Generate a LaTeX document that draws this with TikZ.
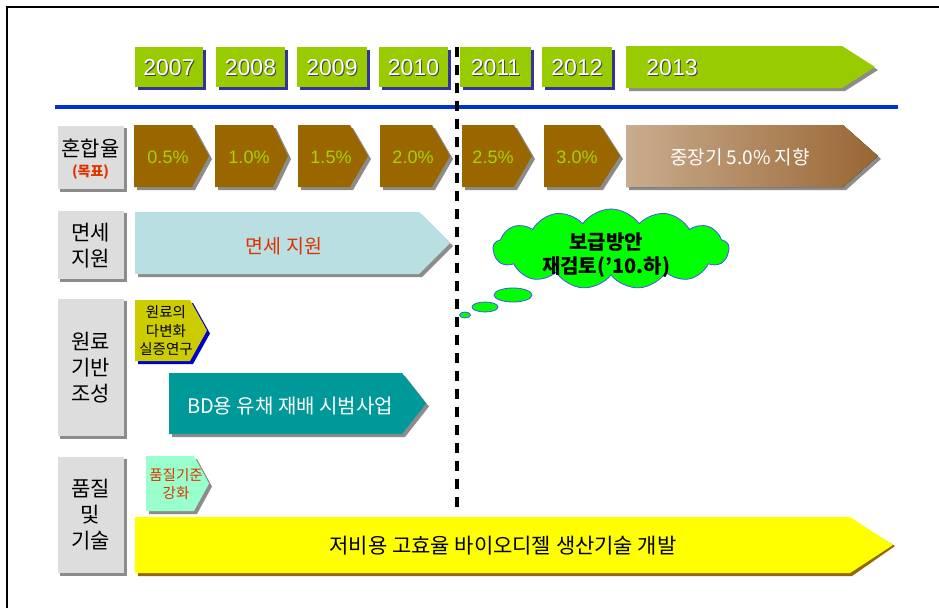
\documentclass[tikz,border=0pt]{standalone}
\usepackage{fontspec}
\setmainfont{Noto Sans CJK KR}
\newfontfamily\arialf{Liberation Sans}
\usetikzlibrary{shapes.symbols,shapes.geometric}
\definecolor{yrgreen}{HTML}{99CC00}
\definecolor{yrshadow}{HTML}{333399}
\definecolor{brownA}{HTML}{996600}
\definecolor{pctcol}{HTML}{A8D400}
\definecolor{lblgray}{HTML}{DDDDDD}
\definecolor{shgray}{HTML}{8C8C8C}
\definecolor{lightblue}{HTML}{B9DFE2}
\definecolor{redtxt}{HTML}{DD3300}
\definecolor{olivey}{HTML}{CCCC00}
\definecolor{tealb}{HTML}{009999}
\definecolor{mintg}{HTML}{99FFCC}
\definecolor{cloudgreen}{HTML}{00FF00}
\definecolor{lineblue}{HTML}{0033CC}
\definecolor{tanL}{HTML}{C9AC8E}
\definecolor{tanR}{HTML}{996633}
\definecolor{yellowA}{HTML}{FFFF00}
% #1 shadow style, #2 fill style, #3 x1, #4 y1, #5 body end, #6 tip, #7 y2
\newcommand\myarrow[7]{%
  \fill[#1,shift={(3,3)}] (#3,#4) -- (#5,#4) -- (#6,{(#4+#7)/2}) -- (#5,#7) -- (#3,#7) -- cycle;
  \fill[#2] (#3,#4) -- (#5,#4) -- (#6,{(#4+#7)/2}) -- (#5,#7) -- (#3,#7) -- cycle;
}
\newcommand\myyear[5]{%
  \fill[yrshadow] ({#1+3},{#2+3}) rectangle ({#3+3},{#4+3});
  \fill[yrgreen] (#1,#2) rectangle (#3,#4);
}
\newcommand\mylabelbox[4]{%
  \fill[shgray] ({#1+3},{#2+3}) rectangle ({#3+3},{#4+3});
  \fill[lblgray] (#1,#2) rectangle (#3,#4);
  \draw[white,line width=1pt] (#1+0.5,#4) -- (#1+0.5,#2+0.5) -- (#3,#2+0.5);
}
\tikzset{
  yrtxt/.style={text=white,font=\arialf\fontsize{23}{24}\selectfont,inner sep=0pt},
  yrsh/.style={text=black!75,font=\arialf\fontsize{23}{24}\selectfont,inner sep=0pt},
  pct/.style={text=pctcol,font=\arialf\fontsize{18}{20}\selectfont,inner sep=0pt},
  lbl/.style={text=black,font=\fontsize{21}{26}\selectfont,align=center,inner sep=0pt},
  small/.style={font=\fontsize{14.5}{18.5}\selectfont,align=center,inner sep=0pt},
  big/.style={font=\fontsize{20}{22}\selectfont,inner sep=0pt},
}
\begin{document}
\begin{tikzpicture}[x=1pt,y=-1pt]
\useasboundingbox (0,0) rectangle (939,608);
\fill[white] (0,0) rectangle (939,608);
% frame
\draw[line width=1.2pt] (7,608) -- (7,7) -- (939,7);
% years
\myyear{135}{47}{203}{87}{}
\myyear{216}{47}{285}{87}{}
\myyear{297}{47}{367}{87}{}
\myyear{379}{47}{448}{87}{}
\myyear{460}{47}{531}{87}{}
\myyear{542}{47}{612}{87}{}
\myarrow{shgray}{yrgreen}{626}{46}{842}{875}{88}
\foreach \x/\y in {169/2007,250.5/2008,332/2009,413.5/2010,495.5/2011,577/2012,672/2013}{
  \node[yrsh] (s\y) at (\x+1,68+1) {\y};
  \node[yrtxt] (t\y) at (\x,68) {\y};
}
% blue line
\draw[lineblue,line width=3.5pt] (55,107) -- (898,107);
% label boxes
\mylabelbox{57}{125}{124}{189}
\mylabelbox{57}{210}{124}{279}
\mylabelbox{57}{298}{124}{436}
\mylabelbox{57}{456}{124}{573}
\node[lbl] (l1) at (90.5,148) {혼합율};
\node[text=redtxt,font=\bfseries\fontsize{14}{16}\selectfont,inner sep=0pt] (l1b) at (90.5,172) {(목표)};
\node[lbl] (l2) at (90.5,245.5) {면세\\지원};
\node[lbl] (l3) at (90.5,368) {원료\\기반\\조성};
\node[lbl] (l4) at (90.5,515) {품질\\및\\기술};
% row 1
\myarrow{shgray}{brownA}{134}{125}{192}{209}{187}
\myarrow{shgray}{brownA}{215}{125}{273}{288}{187}
\myarrow{shgray}{brownA}{298}{125}{350}{368}{187}
\myarrow{shgray}{brownA}{380}{125}{432}{450}{187}
\myarrow{shgray}{brownA}{462}{125}{514}{532}{187}
\myarrow{shgray}{brownA}{544}{125}{600}{620}{187}
\myarrow{shgray}{left color=tanL,right color=tanR}{626}{125}{843}{878}{187}
\node[pct] (p1) at (168,157) {0.5\%};
\node[pct] (p2) at (249,157) {1.0\%};
\node[pct] (p3) at (331,157) {1.5\%};
\node[pct] (p4) at (413,157) {2.0\%};
\node[pct] (p5) at (493,157) {2.5\%};
\node[pct] (p6) at (577,157) {3.0\%};
\node[text=white,font=\fontsize{19}{20}\selectfont,inner sep=0pt] (p7) at (740,157) {중장기 5.0\% 지향};
% row 2
\myarrow{shgray}{lightblue}{135}{212}{419}{450}{274}
\node[text=redtxt,font=\fontsize{19.5}{22}\selectfont,inner sep=0pt] (t2) at (284,246) {면세 지원};
% row 3
\myarrow{blue!80!black}{olivey}{135}{300}{190}{207}{361}
\node[small,text=black] (t3a) at (166,331) {원료의\\다변화\\실증연구};
\myarrow{shgray}{tealb}{169}{373}{402}{426}{434}
\node[big,text=white] (t3b) at (290,406) {BD용 유채 재배 시범사업};
% row 4
\myarrow{shgray}{mintg}{146}{456}{194}{209}{511}
\node[small,text=redtxt] (t4a) at (176,484) {품질기준\\강화};
\fill[brownA] (138,520) -- (852,520) -- (895,546) -- (852,576) -- (138,576) -- cycle;
\fill[yellowA] (135,517) -- (850,517) -- (893,545) -- (850,573) -- (135,573) -- cycle;
\node[font=\fontsize{21}{22}\selectfont,inner sep=0pt,text=black] (t4b) at (503,546) {저비용 고효율 바이오디젤 생산기술 개발};
% dashed divider
\draw[black,line width=3.5pt,dash pattern=on 10pt off 8pt] (457,47) -- (457,512);
% cloud
\node[cloud,cloud puffs=13,cloud puff arc=110,aspect=3,fill=cloudgreen,draw=blue!70,line width=0.8pt,minimum width=236pt,minimum height=80pt,inner sep=0pt] (cloud) at (611,249) {};
\node[ellipse,fill=cloudgreen,draw=blue!70,line width=0.8pt,minimum width=38pt,minimum height=14pt,inner sep=0pt] (b1) at (513,295) {};
\node[ellipse,fill=cloudgreen,draw=blue!70,line width=0.8pt,minimum width=26pt,minimum height=10pt,inner sep=0pt] (b2) at (485,307) {};
\node[ellipse,fill=cloudgreen,draw=blue!70,line width=0.8pt,minimum width=11pt,minimum height=6pt,inner sep=0pt] (b3) at (465,315) {};
\node[font=\bfseries\fontsize{20}{24}\selectfont,align=center,inner sep=0pt] (ct) at (606,255) {보급방안\\재검토('10.하)};
\end{tikzpicture}
\end{document}
